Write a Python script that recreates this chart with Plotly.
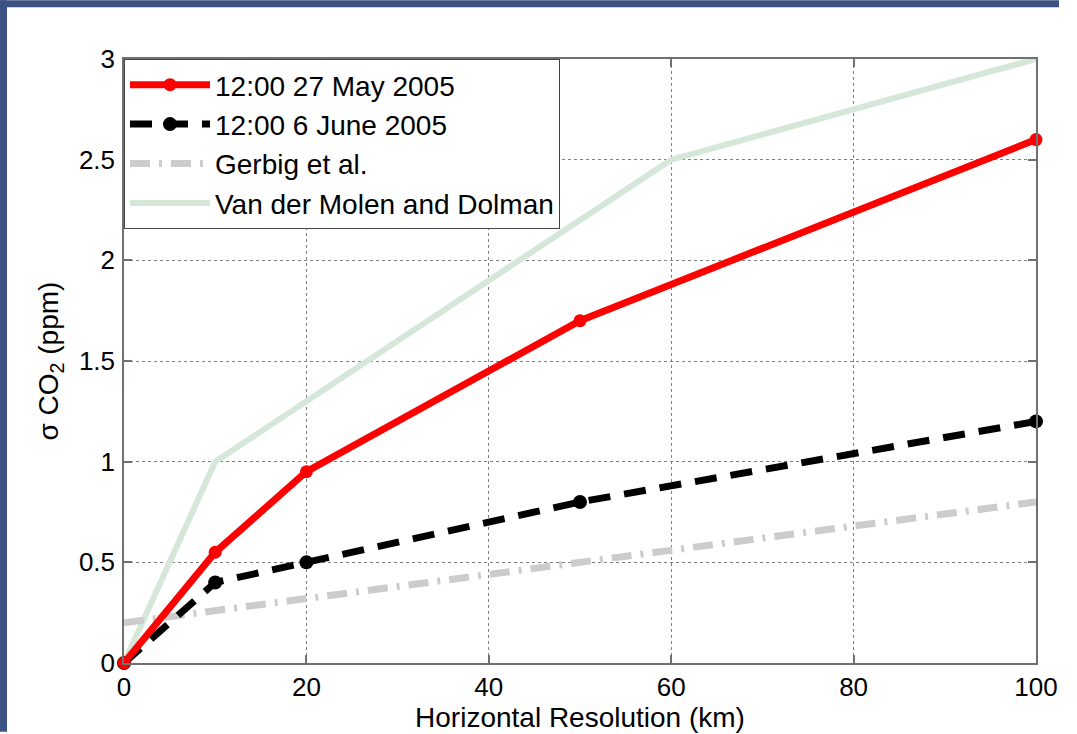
import plotly.graph_objects as go

# Data
x_may = [0, 10, 20, 50, 100]
y_may = [0, 0.55, 0.95, 1.7, 2.6]
x_june = [0, 10, 20, 50, 100]
y_june = [0, 0.4, 0.5, 0.8, 1.2]
x_gerbig = [0, 100]
y_gerbig = [0.2, 0.8]
x_vdm = [0, 10, 60, 100]
y_vdm = [0, 1.0, 2.5, 3.0]

x_ticks = [0, 20, 40, 60, 80, 100]
y_ticks = [0, 0.5, 1, 1.5, 2, 2.5, 3]
y_tick_labels = ["0", "0.5", "1", "1.5", "2", "2.5", "3"]

FONT = "Liberation Sans, Arial, sans-serif"

fig = go.Figure()
fig.add_trace(go.Scatter(x=x_vdm, y=y_vdm, mode="lines", name="Van der Molen and Dolman",
                         line=dict(color="#d4e7d9", width=6), cliponaxis=False, legendrank=4))
fig.add_trace(go.Scatter(x=x_gerbig, y=y_gerbig, mode="lines", name="Gerbig et al.",
                         line=dict(color="#cccccc", width=7, dash="20px,9px,3px,9px"),
                         cliponaxis=False, legendrank=3))
fig.add_trace(go.Scatter(x=x_june, y=y_june, mode="lines+markers", name="12:00 6 June 2005",
                         line=dict(color="black", width=7, dash="22px,14px"),
                         marker=dict(symbol="circle", size=14, color="black"),
                         cliponaxis=False, legendrank=2))
fig.add_trace(go.Scatter(x=x_may, y=y_may, mode="lines+markers", name="12:00 27 May 2005",
                         line=dict(color="#ff0000", width=7),
                         marker=dict(symbol="circle", size=13, color="#ff0000"),
                         cliponaxis=False, legendrank=1))

axis_common = dict(
    showline=True, linecolor="#707070", linewidth=1.5, mirror="ticks",
    showgrid=True, gridcolor="#808080", griddash="dot", gridwidth=1,
    ticks="inside", ticklen=8, tickcolor="#707070", tickwidth=1.5,
    zeroline=False, tickfont=dict(family=FONT, size=26, color="black"),
)

fig.update_layout(
    width=1077, height=734,
    margin=dict(l=124, r=41, t=59, b=69),
    paper_bgcolor="white", plot_bgcolor="white",
    font=dict(family=FONT, color="black"),
    showlegend=True,
    legend=dict(x=0, y=1, xanchor="left", yanchor="top",
                bgcolor="white", bordercolor="#444444", borderwidth=1,
                font=dict(family=FONT, size=28, color="black"),
                traceorder="normal", itemwidth=80),
    xaxis=dict(range=[0, 100], tickvals=x_ticks, ticklabelstandoff=0,
               title=dict(text="Horizontal Resolution (km)", font=dict(family=FONT, size=28),
                          standoff=0),
               **axis_common),
    yaxis=dict(range=[0, 3], tickvals=y_ticks, ticktext=y_tick_labels, ticklabelstandoff=2,
               title=dict(text="σ CO<sub>2</sub> (ppm)", font=dict(family=FONT, size=28),
                          standoff=12),
               **axis_common),
    shapes=[
        dict(type="rect", xref="paper", yref="paper",
             x0=(0 - 124) / 912, x1=(7 - 124) / 912,
             y0=(665 - 734) / 606, y1=(665 - 0) / 606,
             fillcolor="#3b5282", line=dict(width=0), layer="above"),
        dict(type="rect", xref="paper", yref="paper",
             x0=(0 - 124) / 912, x1=(1059 - 124) / 912,
             y0=(665 - 7) / 606, y1=(665 - 0) / 606,
             fillcolor="#3b5282", line=dict(width=0), layer="above"),
    ],
)

fig.write_html("out.html", config={"displayModeBar": False},
               post_script="document.body.style.margin='0px';document.body.style.overflow='hidden';")
